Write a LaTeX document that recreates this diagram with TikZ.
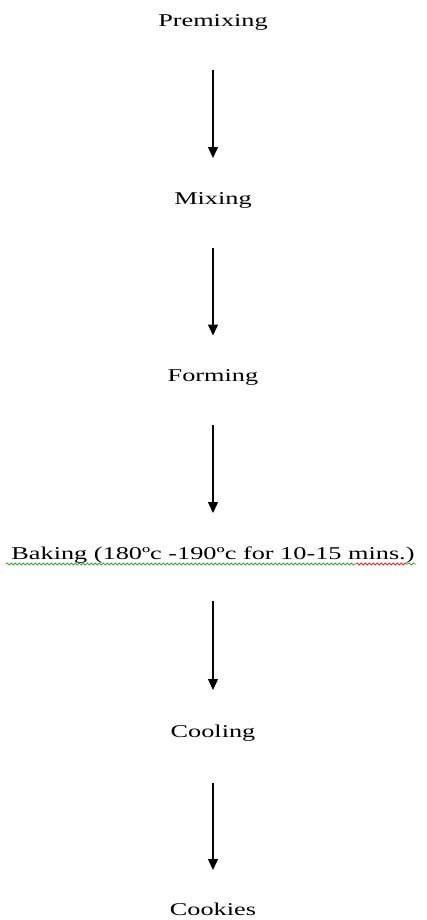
\documentclass[tikz,border=0pt]{standalone}
\usepackage{fontspec}
\setmainfont{Liberation Serif}
\newfontfamily\stretchedfont[FakeStretch=1.46]{Liberation Serif}
\usetikzlibrary{arrows.meta,decorations.pathmorphing}
\definecolor{spellgreen}{RGB}{60,170,60}
\definecolor{spellred}{RGB}{235,40,40}
\tikzset{
  stepnode/.style={anchor=base, inner sep=0pt, font=\stretchedfont\fontsize{18bp}{21bp}\selectfont},
  flowarrow/.style={line width=1.3bp, -{Triangle[width=10bp,length=11bp]}},
  squiggle/.style={line width=0.8bp, decorate, decoration={snake, amplitude=1.1bp, segment length=4bp}}
}
\begin{document}
\begin{tikzpicture}[x=1bp,y=1bp]
  \useasboundingbox (0,0) rectangle (426,-920);
  \node[stepnode] (premix) at (213,-26) {Premixing};
  \node[stepnode] (mix) at (213,-204) {Mixing};
  \node[stepnode] (form) at (213,-381.5) {Forming};
  \node[stepnode] (bake) at (213,-559) {Baking (180ºc -190ºc for 10-15 mins.)};
  \node[stepnode] (cool) at (213,-737) {Cooling};
  \node[stepnode] (cook) at (213,-915) {Cookies};
  \draw[flowarrow] ([yshift=-44bp]premix.base) -- ([yshift=46bp]mix.base);
  \draw[flowarrow] ([yshift=-44bp]mix.base) -- ([yshift=46bp]form.base);
  \draw[flowarrow] ([yshift=-43bp]form.base) -- ([yshift=46bp]bake.base);
  \draw[flowarrow] ([yshift=-42bp]bake.base) -- ([yshift=47bp]cool.base);
  \draw[flowarrow] ([yshift=-46bp]cool.base) -- ([yshift=45bp]cook.base);
  \coordinate (sq1) at (6,-564);
  \coordinate (sq2) at (356,-564);
  \coordinate (sq3) at (408,-564);
  \coordinate (sq4) at (416,-564);
  \draw[squiggle, spellgreen] (sq1) -- (sq2);
  \draw[squiggle, spellred] (sq2) -- (sq3);
  \draw[squiggle, spellgreen] (sq3) -- (sq4);
\end{tikzpicture}
\end{document}
